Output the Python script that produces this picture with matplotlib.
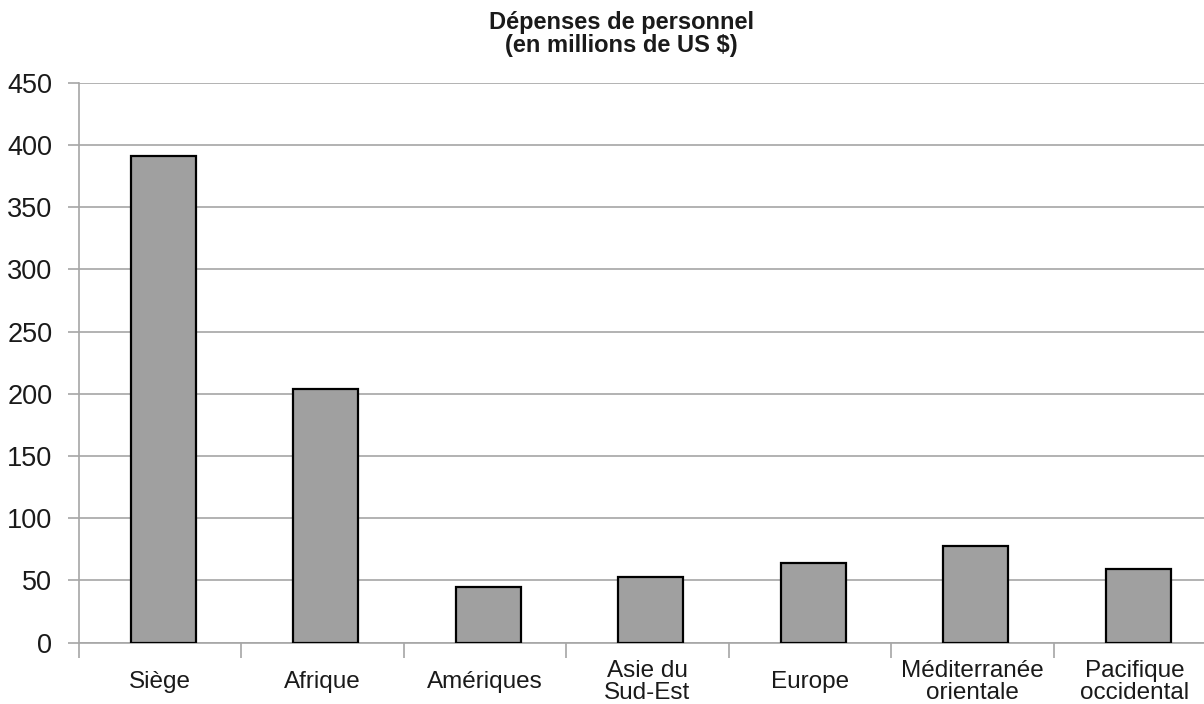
import matplotlib
matplotlib.use("Agg")
import matplotlib.pyplot as plt
import matplotlib.transforms as mtransforms
import numpy as np

plt.rcParams['font.family'] = ['Liberation Sans', 'DejaVu Sans']

categories = ["Siège", "Afrique", "Amériques", "Asie du\nSud-Est", "Europe",
              "Méditerranée\norientale", "Pacifique\noccidental"]
values = [391, 204, 44.5, 53, 64, 78, 59]
y_ticks = [0, 50, 100, 150, 200, 250, 300, 350, 400, 450]
title = "Dépenses de personnel\n(en millions de US $)"

grid_col = "#a6a6a6"
bar_col = "#a0a0a0"

fig = plt.figure(figsize=(12.04, 7.04), dpi=100)
ax = fig.add_axes([0.0654, 0.0871, 0.9446, 0.7954])

x = np.arange(len(categories))
ax.bar(x + 0.02, values, width=0.4, color=bar_col, edgecolor="black", linewidth=1.6, zorder=3)

ax.set_xlim(-0.5, len(categories) - 0.5)
ax.set_ylim(0, 450)
ax.set_yticks(y_ticks)
ax.set_yticklabels([str(t) for t in y_ticks], fontsize=19.5, color="#1a1a1a")
ax.yaxis.grid(True, color=grid_col, linewidth=1.2, zorder=0)
ax.tick_params(axis='y', length=8, width=1.2, color=grid_col, pad=11)

# category boundaries as tick marks, labels placed separately
ax.set_xticks(np.arange(len(categories) + 1) - 0.5)
ax.set_xticklabels([])
ax.tick_params(axis='x', length=11, width=1.2, color=grid_col)

for s in ["top", "right"]:
    ax.spines[s].set_visible(False)
for s in ["left", "bottom"]:
    ax.spines[s].set_color(grid_col)
    ax.spines[s].set_linewidth(1.2)

trans = mtransforms.blended_transform_factory(ax.transData, ax.transAxes)
for xi, lab in zip(x, categories):
    ax.text(xi, -0.0705, lab, transform=trans, ha="center", va="center",
            multialignment="center", fontsize=17.5, linespacing=1.0, color="#1a1a1a")

fig.text(0.516, 1 - 34 / 704, title, ha="center", va="center", fontsize=17,
         fontweight="bold", linespacing=1.0, color="#1a1a1a")

fig.savefig("out.png", dpi=100)
